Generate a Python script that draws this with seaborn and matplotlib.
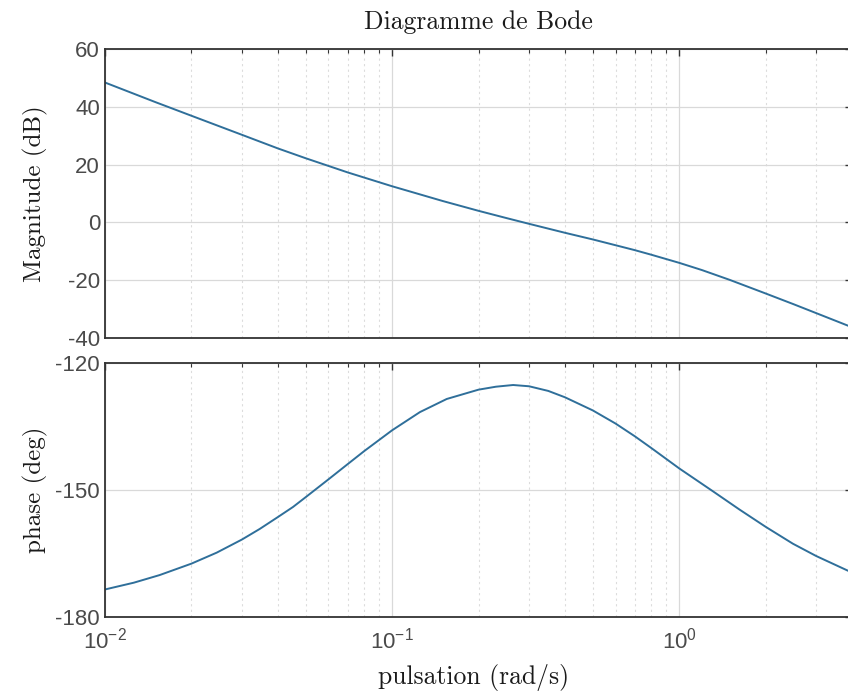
import numpy as np
import pandas as pd
import seaborn as sns
import matplotlib.pyplot as plt
from matplotlib.ticker import LogLocator, LogFormatterSciNotation, NullFormatter

w_mag = [0.01, 0.015, 0.02, 0.03, 0.04, 0.05, 0.07, 0.1, 0.15, 0.2, 0.25, 0.3, 0.4, 0.5, 0.6, 0.7,
         0.8, 1.0, 1.2, 1.5, 2.0, 2.5, 3.0, 4.0]
mag_db = [48.4, 41.6, 36.9, 30.3, 25.6, 22.2, 17.3, 12.5, 7.4, 4.0, 1.5, -0.5, -3.6, -5.9, -7.9, -9.6,
          -11.2, -14.0, -16.5, -19.9, -24.6, -28.3, -31.4, -36.3]

w_phase = [0.01, 0.0126, 0.0155, 0.02, 0.0245, 0.03, 0.0346, 0.04, 0.0452, 0.05, 0.06, 0.07, 0.08,
           0.1, 0.125, 0.155, 0.2, 0.23, 0.264, 0.3, 0.35, 0.4, 0.5, 0.6, 0.7, 0.8, 1.0, 1.31, 1.62,
           2.0, 2.49, 3.0, 3.85, 4.0]
phase_deg = [-173.5, -171.9, -170.1, -167.4, -164.8, -161.7, -159.2, -156.4, -154.0, -151.7, -147.5,
             -143.9, -140.8, -135.9, -131.6, -128.5, -126.3, -125.6, -125.2, -125.5, -126.6, -128.1,
             -131.2, -134.3, -137.3, -140.1, -144.9, -150.3, -154.6, -158.7, -162.7, -165.6, -169.0,
             -169.5]

mag = pd.DataFrame({"w": w_mag, "db": mag_db})
phase = pd.DataFrame({"w": w_phase, "deg": phase_deg})

sns.set_theme(style="white")
plt.rcParams["font.family"] = ["Liberation Sans", "DejaVu Sans"]
plt.rcParams["mathtext.fontset"] = "custom"
plt.rcParams["mathtext.rm"] = "Liberation Sans"
plt.rcParams["mathtext.it"] = "Liberation Sans"

line_col = "#2f6f9a"
tick_col = "#4a4a4a"
spine_col = "#333333"

fig = plt.figure(figsize=(8.48, 6.93), dpi=100)
ax1 = fig.add_axes([0.1238, 0.5123, 0.881, 0.417])
ax2 = fig.add_axes([0.1238, 0.1097, 0.881, 0.3665])

sns.lineplot(data=mag, x="w", y="db", ax=ax1, color=line_col, lw=1.4)
sns.lineplot(data=phase, x="w", y="deg", ax=ax2, color=line_col, lw=1.4)

for ax in (ax1, ax2):
    ax.set_xscale("log")
    ax.set_xlim(0.01, 4)
    ax.xaxis.set_major_locator(LogLocator(base=10))
    ax.xaxis.set_minor_locator(LogLocator(base=10, subs=np.arange(2, 10)))
    ax.xaxis.set_minor_formatter(NullFormatter())
    ax.grid(True, which="major", color="#d9d9d9", lw=0.9)
    ax.grid(True, which="minor", axis="x", color="#dcdcdc", lw=0.8, ls=(0, (2, 3)))
    ax.tick_params(which="both", direction="in", top=True, right=True, colors=spine_col,
                   labelcolor=tick_col, labelsize=16)
    ax.tick_params(which="major", length=5, width=1)
    ax.tick_params(which="minor", length=3, width=0.8)
    for s in ax.spines.values():
        s.set_color(spine_col)
        s.set_linewidth(1.3)
    ax.set_xlabel("")
    ax.set_ylabel("")

ax1.set_ylim(-40, 60)
ax1.set_yticks([-40, -20, 0, 20, 40, 60])
ax1.set_yticklabels(["-40", "-20", "0", "20", "40", "60"])
ax1.xaxis.set_major_formatter(NullFormatter())

ax2.set_ylim(-180, -120)
ax2.set_yticks([-180, -150, -120])
ax2.set_yticklabels(["-180", "-150", "-120"])
ax2.xaxis.set_major_formatter(LogFormatterSciNotation())
ax2.tick_params(axis="x", pad=8)

serif = "cmr10"
fig.text(0.564, 0.968, "Diagramme de Bode", family=serif, fontsize=18.5, ha="center", va="center", color="#1a1a1a")
fig.text(0.042, 0.72, "Magnitude (dB)", family=serif, fontsize=18, rotation=90, ha="center", va="center", color="#1a1a1a")
fig.text(0.042, 0.293, "phase (deg)", family=serif, fontsize=18, rotation=90, ha="center", va="center", color="#1a1a1a")
fig.text(0.558, 0.023, "pulsation (rad/s)", family=serif, fontsize=18.5, ha="center", va="center", color="#1a1a1a")

fig.savefig("out.png", dpi=100)
